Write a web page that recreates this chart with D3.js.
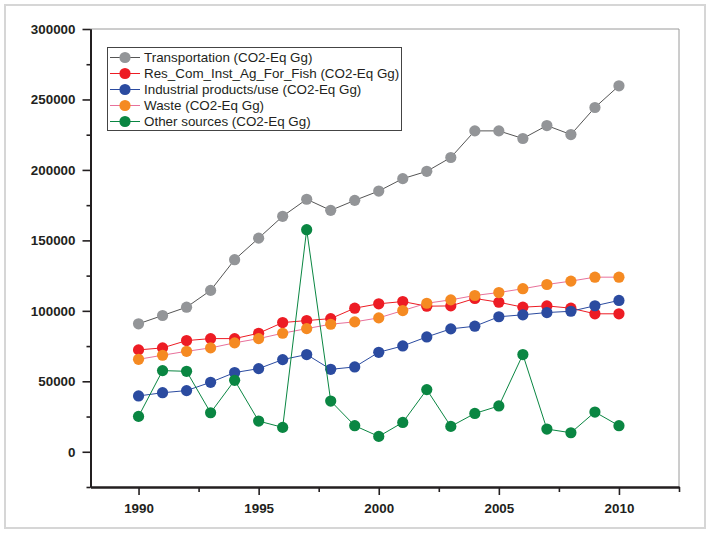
<!DOCTYPE html>
<html><head><meta charset="utf-8">
<script src="https://cdn.jsdelivr.net/npm/d3@7"></script>
<style>body{margin:0;background:#fff}svg{display:block}</style>
</head><body><svg id="c" width="711" height="534"></svg>
<script>
const years = d3.range(1990, 2011);
const transportation = [90800,96700,102600,114500,136300,151600,167100,179200,171300,178400,185000,193800,199000,208800,227700,227700,222300,231500,225100,244300,259700];
const resCom = [72300,73700,78900,80300,80300,84100,91700,93100,94500,101900,105000,106600,103300,103500,108800,106100,102600,103500,101900,97900,97900];
const industrial = [39600,41900,43400,49300,56200,59000,65400,69000,58500,60200,70600,75100,81500,87200,89100,95800,97200,98800,99700,103600,107400];
const waste = [65600,68500,71300,73700,77300,80300,84100,87400,90500,92200,95000,100200,105400,107800,110900,113000,115700,118700,121100,123900,123900];
const other = [25100,57600,57100,27700,50700,21800,17300,157600,36000,18500,10900,20800,44100,18000,27200,32500,69000,16100,13500,28200,18500];
const seriesNames = ["Transportation (CO2-Eq Gg)","Res_Com_Inst_Ag_For_Fish (CO2-Eq Gg)","Industrial products/use (CO2-Eq Gg)","Waste (CO2-Eq Gg)","Other sources (CO2-Eq Gg)"];
const seriesValues = [transportation, resCom, industrial, waste, other];
const markerColors = ["#939598","#ED1C24","#2B4BA0","#F58A22","#0A8642"];
const lineColors = ["#555555","#ED1C24","#2B4BA0","#E8719B","#0A8642"];
const yTicks = [0,50000,100000,150000,200000,250000,300000];
const xTicks = [1990,1995,2000,2005,2010];

const svg = d3.select("#c");
const L=90.5, R=679, T=29, B=487;
const x = d3.scaleLinear().domain([1988,2012.5]).range([L,R]);
const y = d3.scaleLinear().domain([-25000,300000]).range([B,T]);

// outer frame
svg.append("rect").attr("x",5).attr("y",5).attr("width",700).attr("height",523)
  .attr("fill","none").attr("stroke","#d6d6d6").attr("stroke-width",2);

// top/right frame
svg.append("path").attr("d",`M${L},${T}H${R}V${B}`).attr("fill","none").attr("stroke","#9a9a9a").attr("stroke-width",1);

// axes
const font = "'Liberation Sans', Arial, sans-serif";
const yAxis = svg.append("g").attr("transform",`translate(${L},0)`)
  .call(d3.axisLeft(y).tickValues(yTicks).tickFormat(d3.format("d")).tickSize(8).tickSizeOuter(0));
const yMinor = svg.append("g").attr("transform",`translate(${L},0)`)
  .call(d3.axisLeft(y).tickValues([-25000,25000,75000,125000,175000,225000,275000]).tickFormat("").tickSize(4).tickSizeOuter(0));
const xAxis = svg.append("g").attr("transform",`translate(0,${B})`)
  .call(d3.axisBottom(x).tickValues(xTicks).tickFormat(d3.format("d")).tickSize(8).tickSizeOuter(0));
const xMinor = svg.append("g").attr("transform",`translate(0,${B})`)
  .call(d3.axisBottom(x).tickValues([1992.5,1997.5,2002.5,2007.5,2012.5]).tickFormat("").tickSize(5).tickSizeOuter(0));
[yAxis,yMinor,xAxis,xMinor].forEach(g=>{
  g.select(".domain").attr("stroke","#231f20").attr("stroke-width",2);
  g.selectAll(".tick line").attr("stroke","#231f20").attr("stroke-width",1.6);
  g.selectAll("text").attr("font-family",font).attr("font-size",13.4).attr("font-weight","bold").attr("fill","#231f20");
});
yAxis.selectAll("text").attr("x",-15);
xAxis.selectAll("text").attr("y",16);

// series
const line = d3.line().x((d,i)=>x(years[i])).y(d=>y(d));
seriesValues.forEach((vals,k)=>{
  const g = svg.append("g");
  g.append("path").attr("d",line(vals)).attr("fill","none").attr("stroke",lineColors[k]).attr("stroke-width",1);
  g.selectAll("circle").data(vals).join("circle")
    .attr("cx",(d,i)=>x(years[i])).attr("cy",d=>y(d)).attr("r",5.6).attr("fill",markerColors[k]);
});

// legend
const lg = svg.append("g");
lg.append("rect").attr("x",107.5).attr("y",47.5).attr("width",294).attr("height",83)
  .attr("fill","#fff").attr("stroke","#444").attr("stroke-width",1);
seriesNames.forEach((nm,k)=>{
  const cy = 57.5 + k*16;
  lg.append("line").attr("x1",110).attr("x2",140).attr("y1",cy).attr("y2",cy).attr("stroke",lineColors[k]).attr("stroke-width",1);
  lg.append("circle").attr("cx",125).attr("cy",cy).attr("r",5.6).attr("fill",markerColors[k]);
  lg.append("text").attr("x",144).attr("y",cy).attr("dy","0.36em").attr("font-family",font).attr("font-size",13.4).attr("fill","#231f20").text(nm);
});
</script></body></html>
